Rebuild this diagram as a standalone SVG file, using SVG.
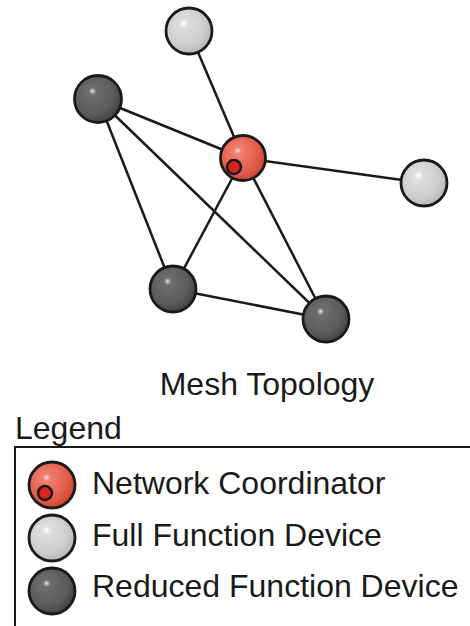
<svg xmlns="http://www.w3.org/2000/svg" width="470" height="626" viewBox="0 0 470 626">
<style>
.edge{stroke:#1a1a1a;stroke-width:2.5;fill:none}
.ball{stroke:#1a1a1a;stroke-width:2.8}
.nc{fill:url(#gNC)}
.ffd{fill:url(#gFFD)}
.rfd{fill:url(#gRFD)}
.dot{fill:#d8231e;stroke:#1a1a1a;stroke-width:2.5}
text{font-family:"Liberation Sans",Arial,sans-serif;font-size:32px;fill:#1a1a1a}
.box{stroke:#1a1a1a;stroke-width:2;fill:none}
</style>
<defs>
<radialGradient id="gNC" cx="0.4" cy="0.4" r="0.65" fx="0.38" fy="0.33">
<stop offset="0" stop-color="#fde0d8"/>
<stop offset="0.12" stop-color="#f08070"/>
<stop offset="0.7" stop-color="#e25a48"/>
<stop offset="1" stop-color="#c8402e"/>
</radialGradient>
<radialGradient id="gFFD" cx="0.4" cy="0.4" r="0.65" fx="0.38" fy="0.33">
<stop offset="0" stop-color="#ffffff"/>
<stop offset="0.15" stop-color="#dedede"/>
<stop offset="0.7" stop-color="#cccccc"/>
<stop offset="1" stop-color="#b4b4b4"/>
</radialGradient>
<radialGradient id="gRFD" cx="0.4" cy="0.4" r="0.65" fx="0.38" fy="0.33">
<stop offset="0" stop-color="#e8e8e8"/>
<stop offset="0.12" stop-color="#6e6e6e"/>
<stop offset="0.7" stop-color="#5a5a5a"/>
<stop offset="1" stop-color="#3e3e3e"/>
</radialGradient>
</defs>
<g id="connectors">
<line class="edge" x1="189" y1="31" x2="243" y2="158"/>
<line class="edge" x1="98" y1="99" x2="243" y2="158"/>
<line class="edge" x1="98" y1="99" x2="173" y2="289"/>
<line class="edge" x1="98" y1="99" x2="326" y2="319"/>
<line class="edge" x1="243" y1="158" x2="424" y2="183"/>
<line class="edge" x1="243" y1="158" x2="173" y2="289"/>
<line class="edge" x1="243" y1="158" x2="326" y2="319"/>
<line class="edge" x1="173" y1="289" x2="326" y2="319"/>
</g>
<g id="ffd-top"><circle class="ball ffd" cx="189" cy="31" r="23"/></g>
<g id="rfd-left"><circle class="ball rfd" cx="98" cy="99" r="23.5"/></g>
<g id="coordinator"><circle class="ball nc" cx="243" cy="158" r="22.5"/><circle class="dot" cx="234" cy="167" r="7"/></g>
<g id="ffd-right"><circle class="ball ffd" cx="424" cy="183" r="23"/></g>
<g id="rfd-lower-left"><circle class="ball rfd" cx="173" cy="289" r="23"/></g>
<g id="rfd-lower-right"><circle class="ball rfd" cx="326" cy="319" r="23"/></g>
<g id="title"><text x="267" y="395" text-anchor="middle">Mesh Topology</text></g>
<g id="legend">
<text x="15" y="439">Legend</text>
<polyline class="box" points="15,626 15,447 470,447"/>
<g id="legend-nc"><circle class="ball nc" cx="52" cy="485" r="23"/><circle class="dot" cx="45" cy="493" r="7"/><text x="92" y="494">Network Coordinator</text></g>
<g id="legend-ffd"><circle class="ball ffd" cx="52" cy="538" r="23"/><text x="92" y="546">Full Function Device</text></g>
<g id="legend-rfd"><circle class="ball rfd" cx="52" cy="591" r="23"/><text x="92" y="597">Reduced Function Device</text></g>
</g>
</svg>
